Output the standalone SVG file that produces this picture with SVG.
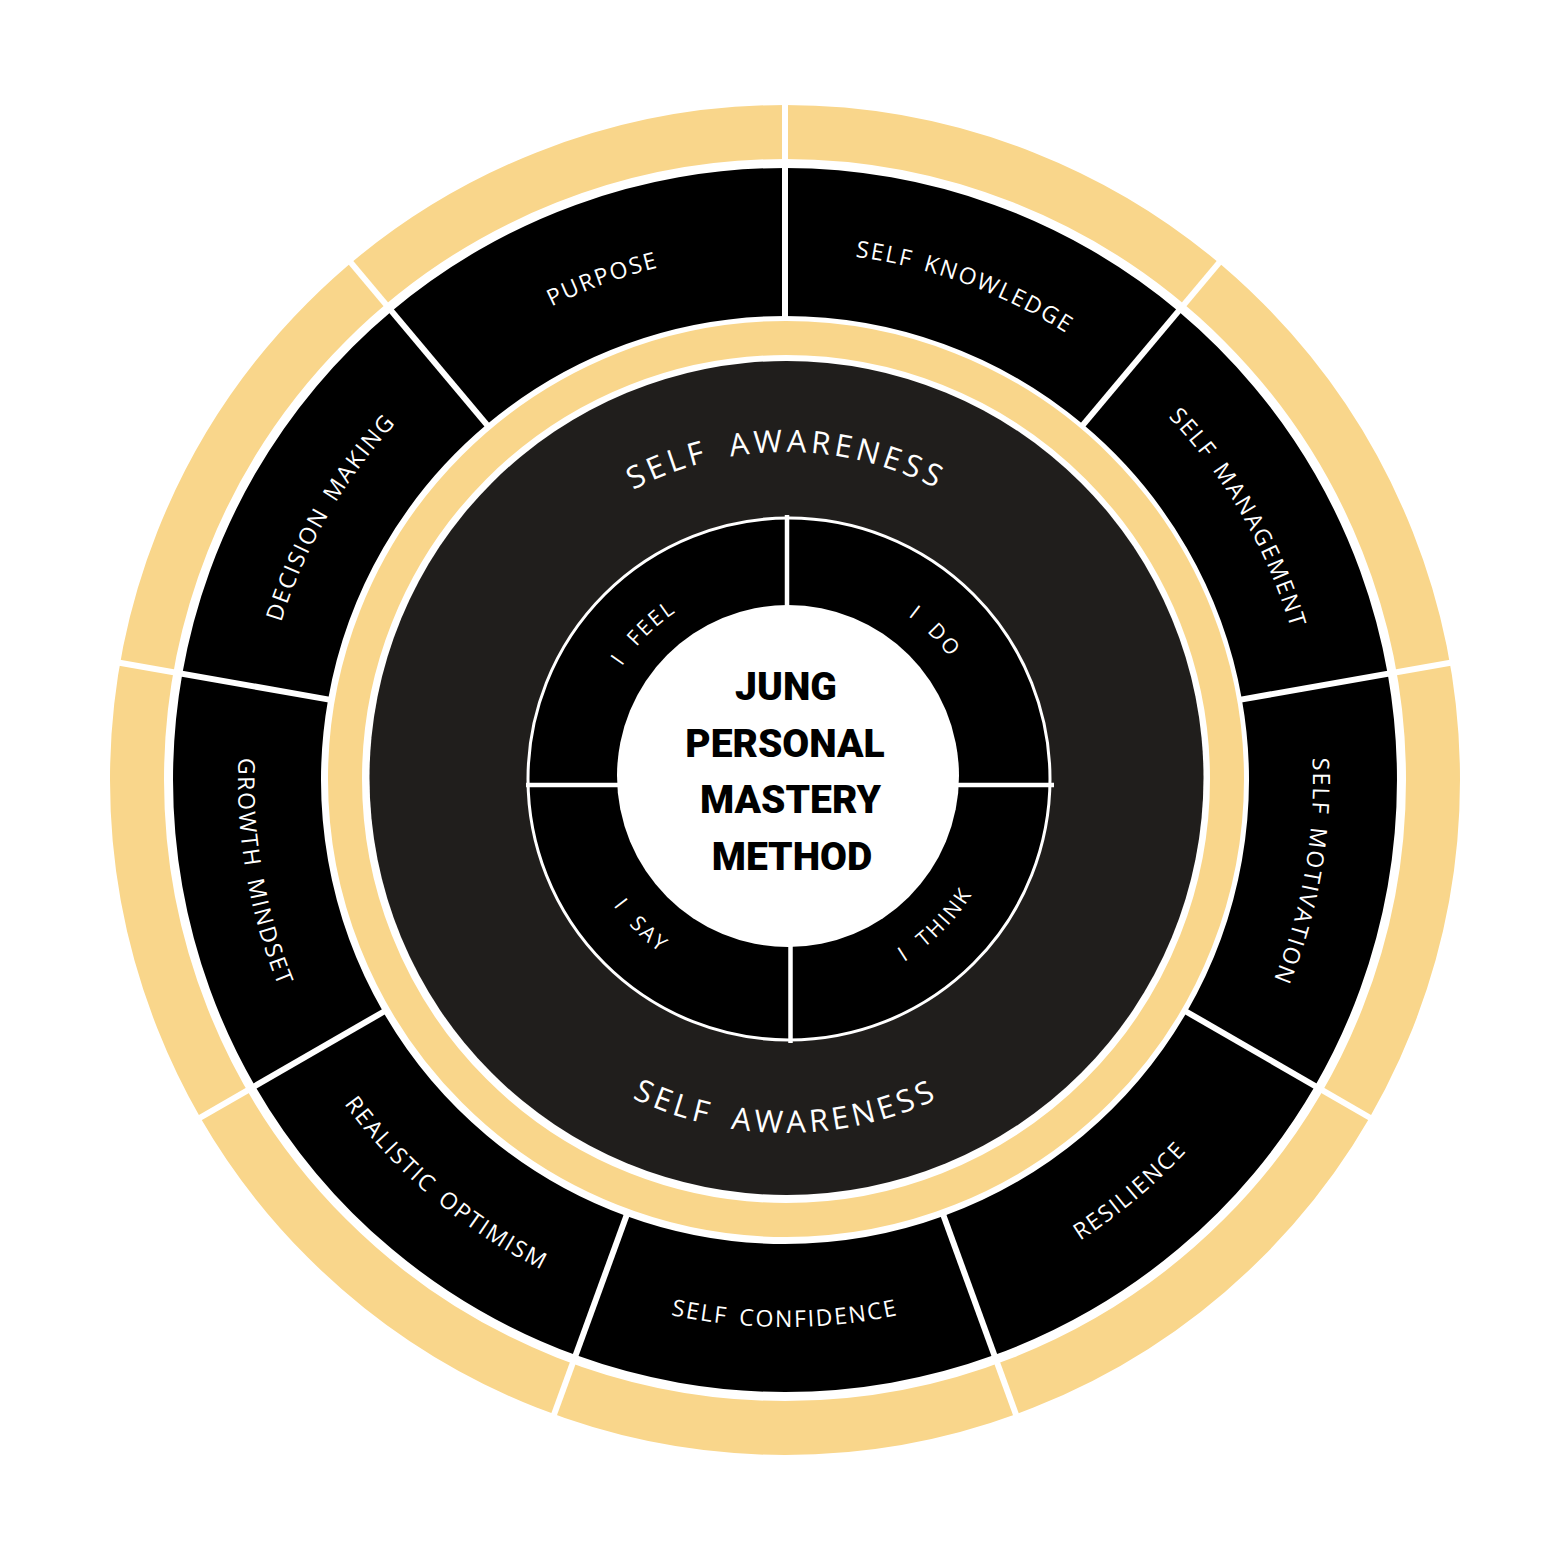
<svg xmlns="http://www.w3.org/2000/svg" width="1563" height="1563" viewBox="0 0 1563 1563">
<style>
.seg{fill:#000000}
.lbl{fill:#ffffff;font-family:"Open Sans","Liberation Sans",sans-serif;font-size:23px;letter-spacing:1.9px;word-spacing:4px}
.ilbl{fill:#ffffff;font-family:"Open Sans","Liberation Sans",sans-serif;font-size:21px;letter-spacing:2.5px;word-spacing:8px}
.aw{fill:#ffffff;font-family:"Open Sans","Liberation Sans",sans-serif;font-size:31px;letter-spacing:4px;word-spacing:9px}
.ctr{fill:#000000;font-family:Roboto,"Liberation Sans",sans-serif;font-size:39px;font-weight:900;text-anchor:middle}
.div{stroke:#ffffff;stroke-width:6;fill:none}
.idiv{stroke:#ffffff;stroke-width:4.5;fill:none}
</style>
<defs>
<path id="pDM" d="M265,688.3 A528,528 0 0 1 445.6,375.6"/>
<path id="pPU" d="M445.6,375.6 A528,528 0 0 1 785,252"/>
<path id="pSK" d="M785,252 A528,528 0 0 1 1124.4,375.6"/>
<path id="pSMa" d="M1124.4,375.6 A528,528 0 0 1 1305,688.3"/>
<path id="pSMo" d="M1305,688.3 A528,528 0 0 1 1242.2,1044"/>
<path id="pRE" d="M972.1,1294 A547,547 0 0 0 1258.7,1053.5"/>
<path id="pSC" d="M597.9,1294 A547,547 0 0 0 972.1,1294"/>
<path id="pRO" d="M311.3,1053.5 A547,547 0 0 0 597.9,1294"/>
<path id="pGM" d="M246.3,685 A547,547 0 0 0 311.3,1053.5"/>
<path id="pAW1" d="M503.7,615 A326,326 0 0 1 1068.3,615"/>
<path id="pAW2" d="M478.6,955.5 A355,355 0 0 0 1093.4,955.5"/>
<path id="pIF" d="M588,778 A201,201 0 0 1 789,577"/>
<path id="pID" d="M789,577 A201,201 0 0 1 990,778"/>
<path id="pIT" d="M789,995 A217,217 0 0 0 1006,778"/>
<path id="pIS" d="M572,778 A217,217 0 0 0 789,995"/>
</defs>
<rect x="0" y="0" width="1563" height="1563" fill="#ffffff"/>
<g id="outer-ring">
<circle cx="785" cy="780" r="648" fill="none" stroke="#F9D68B" stroke-width="54"/>
</g>
<g id="purpose"><path class="seg" d="M391.6,311.2 A612,612 0 0 1 785,168 L785,316 A464,464 0 0 0 486.7,424.6 Z"/><text class="lbl"><textPath href="#pPU" startOffset="50%" text-anchor="middle">PURPOSE</textPath></text></g>
<g id="self-knowledge"><path class="seg" d="M785,168 A612,612 0 0 1 1178.4,311.2 L1083.3,424.6 A464,464 0 0 0 785,316 Z"/><text class="lbl"><textPath href="#pSK" startOffset="50%" text-anchor="middle">SELF KNOWLEDGE</textPath></text></g>
<g id="self-management"><path class="seg" d="M1178.4,311.2 A612,612 0 0 1 1387.7,673.8 L1241.9,699.4 A464,464 0 0 0 1083.3,424.6 Z"/><text class="lbl"><textPath href="#pSMa" startOffset="50%" text-anchor="middle">SELF MANAGEMENT</textPath></text></g>
<g id="self-motivation"><path class="seg" d="M1387.7,673.8 A612,612 0 0 1 1315,1086 L1186.8,1012 A464,464 0 0 0 1241.9,699.4 Z"/><text class="lbl"><textPath href="#pSMo" startOffset="50%" text-anchor="middle">SELF MOTIVATION</textPath></text></g>
<g id="resilience"><path class="seg" d="M1315,1086 A612,612 0 0 1 994.3,1355.1 L943.7,1216 A464,464 0 0 0 1186.8,1012 Z"/><text class="lbl"><textPath href="#pRE" startOffset="50%" text-anchor="middle">RESILIENCE</textPath></text></g>
<g id="self-confidence"><path class="seg" d="M994.3,1355.1 A612,612 0 0 1 575.7,1355.1 L626.3,1216 A464,464 0 0 0 943.7,1216 Z"/><text class="lbl"><textPath href="#pSC" startOffset="50%" text-anchor="middle">SELF CONFIDENCE</textPath></text></g>
<g id="realistic-optimism"><path class="seg" d="M575.7,1355.1 A612,612 0 0 1 255,1086 L383.2,1012 A464,464 0 0 0 626.3,1216 Z"/><text class="lbl"><textPath href="#pRO" startOffset="50%" text-anchor="middle">REALISTIC OPTIMISM</textPath></text></g>
<g id="growth-mindset"><path class="seg" d="M255,1086 A612,612 0 0 1 182.3,673.8 L328.1,699.4 A464,464 0 0 0 383.2,1012 Z"/><text class="lbl"><textPath href="#pGM" startOffset="50%" text-anchor="middle">GROWTH MINDSET</textPath></text></g>
<g id="decision-making"><path class="seg" d="M182.3,673.8 A612,612 0 0 1 391.6,311.2 L486.7,424.6 A464,464 0 0 0 328.1,699.4 Z"/><text class="lbl"><textPath href="#pDM" startOffset="50%" text-anchor="middle">DECISION MAKING</textPath></text></g>
<g id="dividers">
<line class="div" x1="785" y1="320" x2="785" y2="100"/>
<line class="div" x1="1080.7" y1="427.6" x2="1222.1" y2="259.1"/>
<line class="div" x1="1238" y1="700.1" x2="1454.7" y2="662"/>
<line class="div" x1="1183.4" y1="1010" x2="1373.9" y2="1120"/>
<line class="div" x1="942.3" y1="1212.3" x2="1017.6" y2="1419"/>
<line class="div" x1="627.7" y1="1212.3" x2="552.4" y2="1419"/>
<line class="div" x1="386.6" y1="1010" x2="196.1" y2="1120"/>
<line class="div" x1="332" y1="700.1" x2="115.3" y2="662"/>
<line class="div" x1="489.3" y1="427.6" x2="347.9" y2="259.1"/>
</g>
<g id="self-awareness">
<circle cx="786" cy="779" r="441" fill="none" stroke="#F9D68B" stroke-width="34"/>
<circle cx="786.5" cy="778" r="417" fill="#201E1C"/>
<text class="aw"><textPath href="#pAW1" startOffset="50%" text-anchor="middle">SELF AWARENESS</textPath></text>
<text class="aw"><textPath href="#pAW2" startOffset="50%" text-anchor="middle">SELF AWARENESS</textPath></text>
</g>
<g id="i-feel"><path class="seg" d="M789,779 L527,779 A262,262 0 0 1 789,517 Z"/></g>
<g id="i-do"><path class="seg" d="M789,779 L789,517 A262,262 0 0 1 1051,779 Z"/></g>
<g id="i-think"><path class="seg" d="M789,779 L1051,779 A262,262 0 0 1 789,1041 Z"/></g>
<g id="i-say"><path class="seg" d="M789,779 L789,1041 A262,262 0 0 1 527,779 Z"/></g>
<g id="inner-lines">
<circle cx="789" cy="779" r="261" fill="none" stroke="#ffffff" stroke-width="3"/>
<circle cx="788" cy="776" r="171" fill="#ffffff"/>
<line class="idiv" x1="787" y1="515" x2="787" y2="607"/>
<line class="idiv" x1="790.5" y1="943" x2="790.5" y2="1043"/>
<line class="idiv" x1="526" y1="785" x2="619" y2="785"/>
<line class="idiv" x1="956" y1="785" x2="1054" y2="785"/>
</g>
<g id="inner-labels">
<text class="ilbl"><textPath href="#pIF" startOffset="50%" text-anchor="middle">I FEEL</textPath></text>
<text class="ilbl"><textPath href="#pID" startOffset="50%" text-anchor="middle">I DO</textPath></text>
<text class="ilbl"><textPath href="#pIT" startOffset="50%" text-anchor="middle">I THINK</textPath></text>
<text class="ilbl"><textPath href="#pIS" startOffset="50%" text-anchor="middle">I SAY</textPath></text>
</g>
<g id="center">
<text class="ctr" x="786" y="700">JUNG</text>
<text class="ctr" x="785" y="757">PERSONAL</text>
<text class="ctr" x="790.5" y="813">MASTERY</text>
<text class="ctr" x="792" y="870">METHOD</text>
</g>
</svg>
